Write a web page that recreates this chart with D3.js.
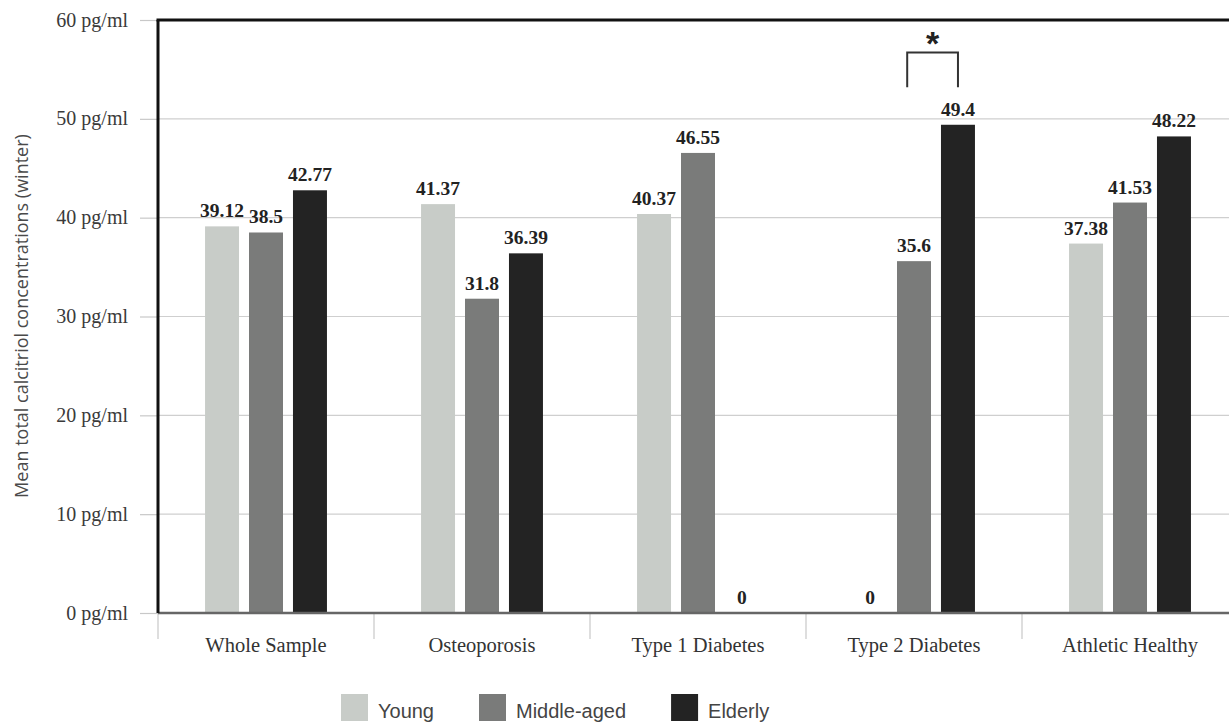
<!DOCTYPE html>
<html>
<head>
<meta charset="utf-8">
<script src="https://cdn.jsdelivr.net/npm/d3@7"></script>
<style>
  html, body { margin: 0; padding: 0; background: #fff; }
  svg { display: block; }
</style>
</head>
<body>
<svg id="chart" width="1229" height="722"></svg>
<script>
// ---- data ----
const categories = ["Whole Sample", "Osteoporosis", "Type 1 Diabetes", "Type 2 Diabetes", "Athletic Healthy"];
const seriesNames = ["Young", "Middle-aged", "Elderly"];
const young = [39.12, 41.37, 40.37, 0, 37.38];
const middleAged = [38.5, 31.8, 46.55, 35.6, 41.53];
const elderly = [42.77, 36.39, 0, 49.4, 48.22];
const yTicks = [0, 10, 20, 30, 40, 50, 60];
const yTickLabel = v => v + " pg/ml";
const yTitle = "Mean total calcitriol concentrations (winter)";
const significance = { category: "Type 2 Diabetes", from: "Middle-aged", to: "Elderly", label: "*" };

// ---- styles ----
const colors = { "Young": "#c8ccc8", "Middle-aged": "#7a7b7a", "Elderly": "#232323" };
const serif = "'Liberation Serif', 'Times New Roman', serif";
const sans = "'Liberation Sans', Arial, sans-serif";

const svg = d3.select("#chart");
const margin = { left: 158, top: 20, bottom: 613 };
const plotRight = 1238;

const x0 = d3.scaleBand().domain(categories).range([margin.left, plotRight]).padding(0);
const x1 = d3.scaleBand().domain(seriesNames).range([0, x0.bandwidth()])
  .paddingInner(0.227).paddingOuter(1.07);
const y = d3.scaleLinear().domain([0, 60]).range([margin.bottom, margin.top]);

const seriesValues = { "Young": young, "Middle-aged": middleAged, "Elderly": elderly };
const rows = categories.map((c, i) => ({
  category: c,
  values: seriesNames.map(s => ({ series: s, value: seriesValues[s][i] }))
}));

// gridlines
svg.append("g").selectAll("line")
  .data(yTicks.filter(t => t > 0 && t < 60))
  .join("line")
  .attr("x1", margin.left).attr("x2", 1229)
  .attr("y1", d => y(d)).attr("y2", d => y(d))
  .attr("stroke", "#cfcfcf").attr("stroke-width", 1.2);

// y axis ticks + labels
const yAxis = d3.axisLeft(y).tickValues(yTicks).tickFormat(yTickLabel).tickSize(18).tickPadding(12);
const gy = svg.append("g").attr("transform", `translate(${margin.left},0)`).call(yAxis);
gy.select(".domain").remove();
gy.selectAll(".tick line").attr("stroke", "#c8c8c8").attr("stroke-width", 1.2);
gy.selectAll(".tick text").attr("font-family", serif).attr("font-size", 20)
  .attr("fill", "#3a3a3a").attr("dy", "0.3em");

// x axis: tick marks at band boundaries + labels
const boundaries = categories.map(c => x0(c));
svg.append("g").selectAll("line").data(boundaries).join("line")
  .attr("x1", d => d).attr("x2", d => d)
  .attr("y1", margin.bottom).attr("y2", margin.bottom + 26)
  .attr("stroke", "#c8c8c8").attr("stroke-width", 1.2);

svg.append("g").selectAll("text").data(categories).join("text")
  .attr("x", d => x0(d) + x0.bandwidth() / 2)
  .attr("y", 652)
  .attr("text-anchor", "middle")
  .attr("font-family", serif).attr("font-size", 20.5)
  .attr("fill", "#333")
  .text(d => d);

// bars
const groups = svg.append("g").selectAll("g").data(rows).join("g")
  .attr("transform", d => `translate(${x0(d.category)},0)`);

groups.selectAll("rect").data(d => d.values).join("rect")
  .attr("x", d => x1(d.series))
  .attr("y", d => y(d.value))
  .attr("width", x1.bandwidth())
  .attr("height", d => y(0) - y(d.value))
  .attr("fill", d => colors[d.series]);

groups.selectAll("text").data(d => d.values).join("text")
  .attr("x", d => x1(d.series) + x1.bandwidth() / 2)
  .attr("y", d => y(d.value) - 9)
  .attr("text-anchor", "middle")
  .attr("font-family", serif).attr("font-weight", "bold").attr("font-size", 19.5)
  .attr("fill", "#222")
  .text(d => d.value);

// plot frame: bottom axis (gray), left + top (black)
svg.append("line")
  .attr("x1", margin.left).attr("x2", 1229)
  .attr("y1", margin.bottom).attr("y2", margin.bottom)
  .attr("stroke", "#666").attr("stroke-width", 2.5);
svg.append("line")
  .attr("x1", margin.left).attr("x2", margin.left)
  .attr("y1", margin.top).attr("y2", margin.bottom)
  .attr("stroke", "#111").attr("stroke-width", 3);
svg.append("line")
  .attr("x1", margin.left - 1.5).attr("x2", 1229)
  .attr("y1", margin.top).attr("y2", margin.top)
  .attr("stroke", "#111").attr("stroke-width", 3);

// significance bracket
{
  const cx = x0(significance.category);
  const xl = cx + x1(significance.from) + x1.bandwidth() * 0.3;
  const xr = cx + x1(significance.to) + x1.bandwidth() * 0.5;
  const yTop = y(56.7), yBot = y(53.2);
  svg.append("path")
    .attr("d", `M${xl},${yBot} V${yTop} H${xr} V${yBot}`)
    .attr("fill", "none").attr("stroke", "#333").attr("stroke-width", 2);
  svg.append("text")
    .attr("x", (xl + xr) / 2).attr("y", yTop - 16)
    .attr("text-anchor", "middle")
    .attr("font-family", sans).attr("font-weight", "bold").attr("font-size", 34)
    .attr("fill", "#222")
    .attr("dy", "0.55em")
    .text(significance.label);
}

// y title
svg.append("text")
  .attr("transform", `translate(28,316) rotate(-90)`)
  .attr("text-anchor", "middle")
  .attr("font-family", "'Open Sans', 'Noto Sans', sans-serif").attr("font-size", 18)
  .attr("fill", "#4a4a4a")
  .text(yTitle);

// legend
const legend = svg.append("g").attr("transform", "translate(341,0)");
let lx = 0;
seriesNames.forEach(s => {
  const g = legend.append("g").attr("transform", `translate(${lx},0)`);
  g.append("rect").attr("x", 0).attr("y", 694).attr("width", 27).attr("height", 27)
    .attr("fill", colors[s]);
  const t = g.append("text").attr("x", 37).attr("y", 718)
    .attr("font-family", sans).attr("font-size", 20).attr("fill", "#444")
    .text(s);
  lx += 37 + t.node().getComputedTextLength() + 45;
});
</script>
</body>
</html>
